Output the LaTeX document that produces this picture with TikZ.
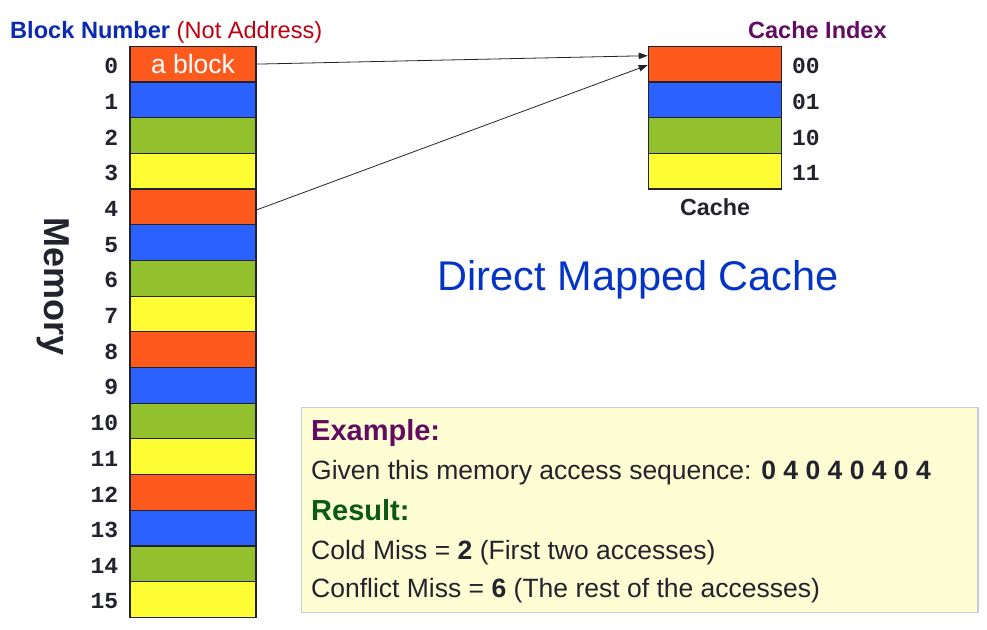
\documentclass[tikz,border=0pt]{standalone}
\usepackage{fontspec}
\setmainfont{Liberation Sans}
\newfontfamily\idxfont{Liberation Mono}
\usetikzlibrary{positioning,arrows.meta}
\definecolor{blockorange}{HTML}{FF5A1E}
\definecolor{blockblue}{HTML}{2B61FF}
\definecolor{blockgreen}{HTML}{92C12D}
\definecolor{blockyellow}{HTML}{FFFD33}
\definecolor{titleblue}{HTML}{0A2AB2}
\definecolor{bigblue}{HTML}{0434C6}
\definecolor{titlered}{HTML}{C0000F}
\definecolor{indexpurple}{HTML}{620B62}
\definecolor{headgreen}{HTML}{0B5A14}
\definecolor{inkgray}{HTML}{23232E}
\definecolor{boxfill}{HTML}{FFFDD3}
\definecolor{boxline}{HTML}{C6CBD8}

\begin{document}
\begin{tikzpicture}[x=1pt, y=-1pt,
    memblock/.style={draw=inkgray, line width=1.2pt, minimum width=126pt, minimum height=35.7pt, inner sep=0pt},
    cacheblock/.style={draw=inkgray, line width=1.2pt, minimum width=133.4pt, minimum height=35.7pt, inner sep=0pt},
    blocknum/.style={inner sep=0pt, yshift=-2pt, text=inkgray, font={\idxfont\bfseries\fontsize{23}{27}\selectfont}},
    memnum/.style={blocknum, xshift=-11pt},
    cachenum/.style={blocknum, xshift=9.5pt},
    exline/.style={anchor=base west, inner sep=0pt, text=inkgray, font={\fontsize{26.5}{31}\selectfont}},
    link/.style={draw=inkgray, line width=0.8pt, -{Triangle[length=9pt,width=6.5pt]}}]
            \useasboundingbox (0,0) rectangle (987,629);

            % memory blocks
            \node[memblock, fill=blockorange, text=white, font={\fontsize{26.5}{30}\selectfont}, label={[memnum]left:0}] (m0) at (193,64.1) {a block};
            \node[memblock, fill=blockblue, label={[memnum]left:1}] (m1) at (193,99.8) {};
            \node[memblock, fill=blockgreen, label={[memnum]left:2}] (m2) at (193,135.5) {};
            \node[memblock, fill=blockyellow, label={[memnum]left:3}] (m3) at (193,171.2) {};
            \node[memblock, fill=blockorange, label={[memnum]left:4}] (m4) at (193,206.9) {};
            \node[memblock, fill=blockblue, label={[memnum]left:5}] (m5) at (193,242.6) {};
            \node[memblock, fill=blockgreen, label={[memnum]left:6}] (m6) at (193,278.3) {};
            \node[memblock, fill=blockyellow, label={[memnum]left:7}] (m7) at (193,314.0) {};
            \node[memblock, fill=blockorange, label={[memnum]left:8}] (m8) at (193,349.7) {};
            \node[memblock, fill=blockblue, label={[memnum]left:9}] (m9) at (193,385.4) {};
            \node[memblock, fill=blockgreen, label={[memnum]left:10}] (m10) at (193,421.0) {};
            \node[memblock, fill=blockyellow, label={[memnum]left:11}] (m11) at (193,456.7) {};
            \node[memblock, fill=blockorange, label={[memnum]left:12}] (m12) at (193,492.4) {};
            \node[memblock, fill=blockblue, label={[memnum]left:13}] (m13) at (193,528.1) {};
            \node[memblock, fill=blockgreen, label={[memnum]left:14}] (m14) at (193,563.8) {};
            \node[memblock, fill=blockyellow, label={[memnum]left:15}] (m15) at (193,599.5) {};

            % cache lines
            \node[cacheblock, fill=blockorange, label={[cachenum]right:00}] (c0) at (715,64.1) {};
            \node[cacheblock, fill=blockblue, label={[cachenum]right:01}] (c1) at (715,99.8) {};
            \node[cacheblock, fill=blockgreen, label={[cachenum]right:10}] (c2) at (715,135.5) {};
            \node[cacheblock, fill=blockyellow, label={[cachenum]right:11}] (c3) at (715,171.2) {};

            % titles
            \node[anchor=base west, inner sep=0pt, font={\bfseries\fontsize{23.6}{28}\selectfont}] (blocktitle) at (10,38.3) {\textcolor{titleblue}{Block Number} \textcolor{titlered}{\mdseries(Not Address)}};
            \node[anchor=base west, inner sep=0pt, text=indexpurple, font={\bfseries\fontsize{23.5}{28}\selectfont}] (indextitle) at (748,38) {Cache Index};
            \node[below=9pt of c3, inner sep=0pt, text=inkgray, font={\bfseries\fontsize{23.3}{28}\selectfont}] (cachetitle) {Cache};
            \node[rotate=-90, inner sep=0pt, text=inkgray, font={\bfseries\fontsize{36}{40}\selectfont}] (memtitle) at (53,287) {Memory};
            \node[anchor=base, inner sep=0pt, text=bigblue, font={\fontsize{41.5}{46}\selectfont}] (dmctitle) at (638.3,290.7) {Direct Mapped Cache};

            % mapping arrows
            \draw[link] (m0.east) -- ([yshift=8.4pt]c0.west);
            \draw[link] ([yshift=-3pt]m4.east) -- ([yshift=-1pt]c0.west);

            % example box
            \node[draw=boxline, fill=boxfill, line width=1.2pt, minimum width=676.6pt, minimum height=205.3pt, inner sep=0pt, anchor=north west] (examplebox) at (300.7,406.7) {};
            \node[exline, text=indexpurple, font={\bfseries\fontsize{29}{34}\selectfont}] (exhead) at (311,440) {Example:};
            \node[exline] (exseq) at (311,479.3) {Given this memory access sequence: \textbf{0 4 0 4 0 4 0 4}};
            \node[exline, text=headgreen, font={\bfseries\fontsize{29}{34}\selectfont}] (reshead) at (311,520.7) {Result:};
            \node[exline] (rescold) at (311,559) {Cold Miss = \textbf{2} (First two accesses)};
            \node[exline] (resconf) at (311,597.7) {Conflict Miss = \textbf{6} (The rest of the accesses)};
\end{tikzpicture}
\end{document}
